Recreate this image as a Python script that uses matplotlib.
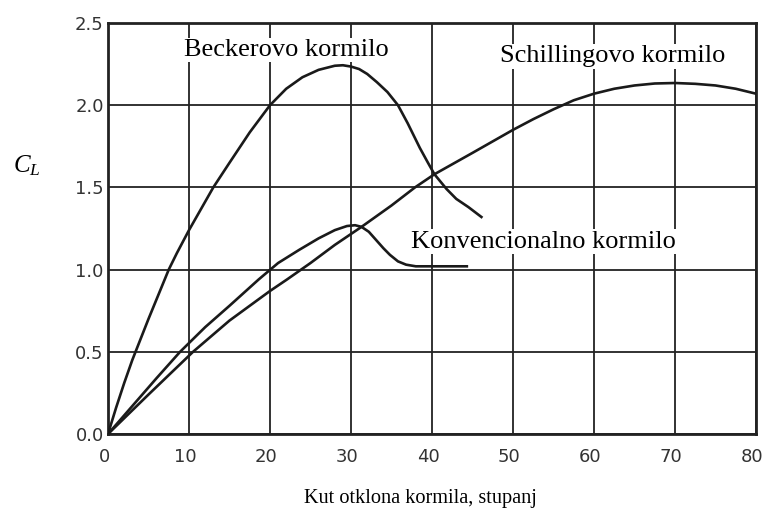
import matplotlib.pyplot as plt
from matplotlib.transforms import ScaledTranslation

# Lift coefficient vs rudder angle
becker_x = [0, 1, 2, 3, 3.4, 5, 6, 7.5, 8.5, 10, 11.5, 13, 15, 17.5, 20, 22, 24,
            26, 28, 29, 30, 31, 32, 33.2, 34.5, 35.8, 37, 38.5, 39.5, 40.3, 41.8,
            43, 44.5, 46.1]
becker_y = [0, 0.16, 0.31, 0.45, 0.5, 0.7, 0.82, 1.0, 1.1, 1.24, 1.37, 1.5, 1.65,
            1.835, 2.0, 2.1, 2.17, 2.215, 2.24, 2.243, 2.235, 2.22, 2.19, 2.14,
            2.08, 2.0, 1.89, 1.74, 1.65, 1.58, 1.49, 1.43, 1.38, 1.32]

konv_x = [0, 3, 6, 8.9, 12, 15, 18.6, 21, 23.6, 26, 28, 29.5, 30.5, 31.3, 32.2,
          33.1, 34, 34.8, 35.8, 36.8, 38, 44.3]
konv_y = [0, 0.17, 0.34, 0.5, 0.65, 0.78, 0.94, 1.04, 1.12, 1.19, 1.24, 1.265,
          1.27, 1.26, 1.23, 1.18, 1.13, 1.09, 1.05, 1.03, 1.02, 1.02]

schill_x = [0, 5, 10.5, 15, 20, 22.1, 25, 28, 31.3, 35, 37.9, 40.3, 45, 50, 52.5,
            55, 57.5, 60, 62.5, 65, 67.5, 70, 72.5, 75, 77.5, 80]
schill_y = [0, 0.24, 0.5, 0.69, 0.87, 0.94, 1.04, 1.15, 1.26, 1.39, 1.5, 1.58,
            1.71, 1.85, 1.915, 1.975, 2.03, 2.07, 2.1, 2.12, 2.132, 2.135, 2.13,
            2.12, 2.1, 2.07]

xticks = [0, 10, 20, 30, 40, 50, 60, 70, 80]
yticks = [0.0, 0.5, 1.0, 1.5, 2.0, 2.5]

plt.rcParams['mathtext.fontset'] = 'custom'
plt.rcParams['mathtext.it'] = 'Liberation Serif:italic'
plt.rcParams['mathtext.rm'] = 'Liberation Serif'

fig = plt.figure(figsize=(7.65, 5.09), dpi=100)
ax = fig.add_axes([108 / 765, 75 / 509, 648 / 765, 411 / 509])

ax.set_xlim(0, 80)
ax.set_ylim(0, 2.5)
ax.set_xticks(xticks)
ax.set_yticks(yticks)
ax.set_xticklabels([str(v) for v in xticks])
ax.set_yticklabels(['%.1f' % v for v in yticks])
ax.grid(True, color='#222222', lw=1.3)
ax.set_axisbelow(True)
ax.tick_params(length=0, labelsize=13, labelcolor='#333333')
ax.tick_params(axis='x', pad=10)
ax.tick_params(axis='y', pad=3)
shift = ScaledTranslation(-4 / 100, 0, fig.dpi_scale_trans)
for lab in ax.get_xticklabels():
    lab.set_transform(lab.get_transform() + shift)
for s in ax.spines.values():
    s.set_linewidth(2)
    s.set_color('#222222')

for xs, ys in [(becker_x, becker_y), (konv_x, konv_y), (schill_x, schill_y)]:
    ax.plot(xs, ys, color='#1a1a1a', lw=1.9, zorder=3)

serif = 'Liberation Serif'
box = dict(facecolor='white', edgecolor='none', pad=1)
ax.text(22.0, 2.30, 'Beckerovo kormilo', family=serif, fontsize=19,
        ha='center', va='baseline', bbox=box, zorder=4)
ax.text(62.3, 2.26, 'Schillingovo kormilo', family=serif, fontsize=19,
        ha='center', va='baseline', bbox=box, zorder=4)
ax.text(53.8, 1.134, 'Konvencionalno kormilo', family=serif, fontsize=19,
        ha='center', va='baseline', bbox=box, zorder=4)

fig.text(420 / 765, 6 / 509, 'Kut otklona kormila, stupanj', family=serif,
         fontsize=14.6, ha='center', va='baseline')
fig.text(27 / 765, 1 - 166 / 509, '$C_L$', fontsize=18, ha='center', va='center')

fig.savefig('out.png', dpi=100)
